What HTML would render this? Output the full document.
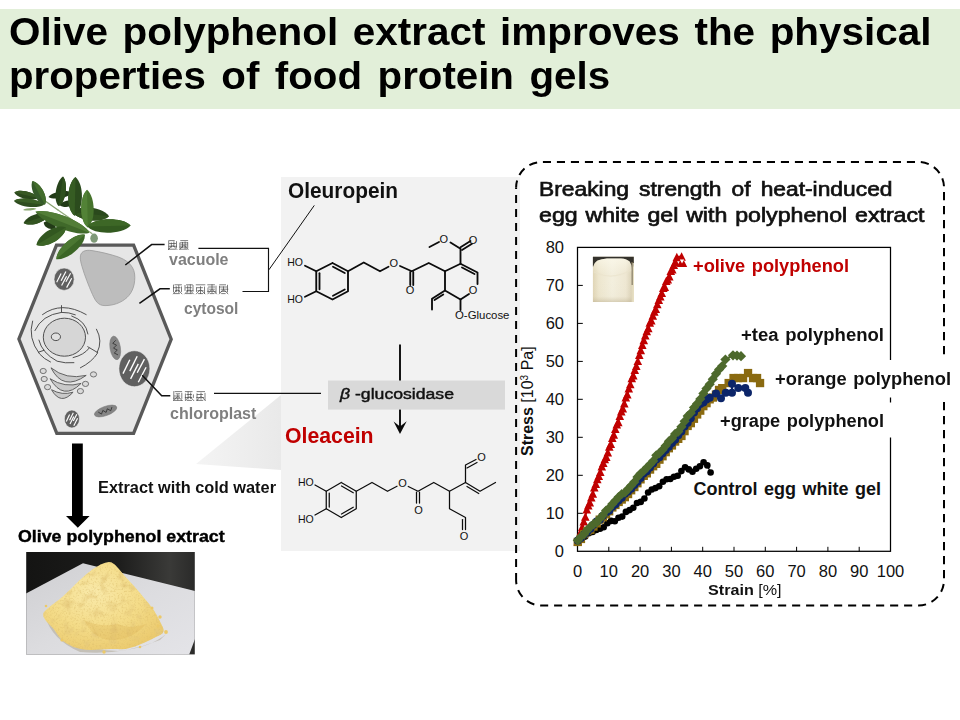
<!DOCTYPE html>
<html lang="en"><head><meta charset="utf-8"><title>Olive polyphenol extract</title>
<style>
html,body{margin:0;padding:0;}
body{width:960px;height:720px;position:relative;overflow:hidden;background:#fff;font-family:"Liberation Sans",sans-serif;}
.hdr{position:absolute;left:0;top:9px;width:960px;height:100px;background:#e2efd9;}
.panel{position:absolute;left:281px;top:177.3px;width:238.7px;height:373.5px;background:#f2f2f2;}
.t{position:absolute;white-space:nowrap;line-height:1;transform-origin:0 0;}
svg{position:absolute;left:0;top:0;}
</style></head><body>
<div class="hdr"></div>
<div class="panel"></div>
<svg width="960" height="720" viewBox="0 0 960 720">
<defs><linearGradient id="gtri" x1="0" y1="0" x2="1" y2="0"><stop offset="0" stop-color="#f4f4f4"/><stop offset="1" stop-color="#e9e9e9"/></linearGradient></defs>
<polygon points="196,464 281,395 281,470" fill="url(#gtri)"/>
<polygon points="56.5,245.1 133.6,245.1 171.2,339.2 133.6,433.3 56.8,433.3 18.9,339" fill="#e6e6e6" stroke="#595959" stroke-width="3.3" stroke-linejoin="miter"/>
<path d="M80.3,258 C80,251.5 85,249.5 92,250.6 C101,252 109,254 117,256.5 C126,259.5 133.5,265 134.6,274 C135.6,283 133,292 127,297.5 C121,303 113,305.6 105,305.6 C98,305.6 95.5,301 92.5,294.5 C88.5,285.5 84.5,275 82,266.5 C81,263 80.4,260.5 80.3,258 Z" fill="#bdbdbd" stroke="#9a9a9a" stroke-width="0.8"/>
<g transform="translate(64.1,279.2)">
<ellipse cx="0" cy="0" rx="10.1" ry="11.2" fill="#606060" stroke="#f0f0f0" stroke-width="0.6"/>
<line x1="-7.4" y1="3.1" x2="-3.0" y2="-5.6" stroke="#fff" stroke-width="1.15" stroke-linecap="butt"/>
<line x1="-3.0" y1="1.5" x2="1.8" y2="-7.8" stroke="#fff" stroke-width="1.15" stroke-linecap="butt"/>
<line x1="-2.5" y1="6.4" x2="2.5" y2="-3.0" stroke="#fff" stroke-width="1.15" stroke-linecap="butt"/>
<line x1="1.8" y1="2.6" x2="6.5" y2="-6.0" stroke="#fff" stroke-width="1.15" stroke-linecap="butt"/>
<line x1="2.5" y1="8.4" x2="7.6" y2="-0.9" stroke="#fff" stroke-width="1.15" stroke-linecap="butt"/>
</g>
<ellipse cx="64.4" cy="337.2" rx="21.1" ry="19" fill="#d6d6d6" stroke="#505050" stroke-width="1"/>
<ellipse cx="55.9" cy="336.8" rx="4.6" ry="3.8" fill="#e0e0e0" stroke="#505050" stroke-width="1"/>
<path d="M42.5,314.6 Q61.5,300.5 86.2,314.6" fill="none" stroke="#484848" stroke-width="0.95" stroke-linecap="round"/>
<path d="M61.5,305.6 L61.5,312.4" fill="none" stroke="#484848" stroke-width="0.95" stroke-linecap="round"/>
<path d="M34.9,330.6 Q42,315 61.5,312.4 Q69,312.2 75.3,314.8" fill="none" stroke="#484848" stroke-width="0.95" stroke-linecap="round"/>
<path d="M32.6,321.1 Q27.5,338 39.6,354 Q44,359 50.5,362" fill="none" stroke="#484848" stroke-width="0.95" stroke-linecap="round"/>
<path d="M38.9,340.1 Q42,353 57.1,361.2 Q65,363.6 73.9,362.7" fill="none" stroke="#484848" stroke-width="0.95" stroke-linecap="round"/>
<path d="M38.4,352.2 L44,350.3" fill="none" stroke="#484848" stroke-width="0.95" stroke-linecap="round"/>
<path d="M96.5,329.2 Q103,341 97.2,352.5" fill="none" stroke="#484848" stroke-width="0.95" stroke-linecap="round"/>
<path d="M87.7,346.7 L97.5,352.5" fill="none" stroke="#484848" stroke-width="0.95" stroke-linecap="round"/>
<path d="M73.1,357.6 Q84,355 89.2,348.1" fill="none" stroke="#484848" stroke-width="0.95" stroke-linecap="round"/>
<path d="M80.4,367.8 Q92,362 97.5,353.2" fill="none" stroke="#484848" stroke-width="0.95" stroke-linecap="round"/>
<path d="M71.7,316 Q86,321 87.9,334" fill="none" stroke="#484848" stroke-width="0.95" stroke-linecap="round"/>
<path d="M51,367.8 Q63,391.8 86.2,375.4 Q66,380 51,367.8 Z" fill="#c9c9c9" stroke="#555" stroke-width="0.9" stroke-linejoin="round"/>
<path d="M50.1,378.7 Q63.2,401.2 81.1,383.4 Q64.6,388.2 50.1,378.7 Z" fill="#c9c9c9" stroke="#555" stroke-width="0.9" stroke-linejoin="round"/>
<path d="M51.5,389.7 Q60.7,405.9 73.1,392.2 Q62.1,395.7 51.5,389.7 Z" fill="#c9c9c9" stroke="#555" stroke-width="0.9" stroke-linejoin="round"/>
<ellipse cx="43.2" cy="371.0" rx="3.1" ry="2.6" fill="#dadada" stroke="#666" stroke-width="0.9"/>
<ellipse cx="44.2" cy="379.0" rx="3.1" ry="2.6" fill="#dadada" stroke="#666" stroke-width="0.9"/>
<ellipse cx="47.6" cy="387.1" rx="3.1" ry="2.6" fill="#dadada" stroke="#666" stroke-width="0.9"/>
<ellipse cx="93.5" cy="374.4" rx="3.1" ry="2.6" fill="#dadada" stroke="#666" stroke-width="0.9"/>
<ellipse cx="85.5" cy="383.9" rx="3.1" ry="2.6" fill="#dadada" stroke="#666" stroke-width="0.9"/>
<ellipse cx="80.4" cy="391.1" rx="3.1" ry="2.6" fill="#dadada" stroke="#666" stroke-width="0.9"/>
<g transform="translate(115.2,347.9) rotate(81)">
<ellipse cx="0" cy="0" rx="11.9" ry="5.2" fill="#858585" stroke="#777" stroke-width="0.5"/>
<polyline points="-7.4,-1.7 -4.9,1.7 -2.5,-1.7 0.0,1.7 2.5,-1.7 4.9,1.7 7.4,-1.7" fill="none" stroke="#333" stroke-width="0.8" stroke-linejoin="round"/>
</g>
<g transform="translate(105.6,411.0) rotate(-20)">
<ellipse cx="0" cy="0" rx="11.8" ry="4.6" fill="#858585" stroke="#777" stroke-width="0.5"/>
<polyline points="-7.3,-1.5 -4.9,1.5 -2.4,-1.5 -0.0,1.5 2.4,-1.5 4.9,1.5 7.3,-1.5" fill="none" stroke="#333" stroke-width="0.8" stroke-linejoin="round"/>
</g>
<g transform="translate(134.4,368.7)">
<ellipse cx="0" cy="0" rx="15.5" ry="18.0" fill="#606060" stroke="#f0f0f0" stroke-width="0.6"/>
<line x1="-11.4" y1="4.9" x2="-4.6" y2="-8.9" stroke="#fff" stroke-width="1.36" stroke-linecap="butt"/>
<line x1="-4.6" y1="2.4" x2="2.8" y2="-12.4" stroke="#fff" stroke-width="1.36" stroke-linecap="butt"/>
<line x1="-3.8" y1="10.2" x2="3.9" y2="-4.8" stroke="#fff" stroke-width="1.36" stroke-linecap="butt"/>
<line x1="2.8" y1="4.1" x2="10.0" y2="-9.6" stroke="#fff" stroke-width="1.36" stroke-linecap="butt"/>
<line x1="3.9" y1="13.5" x2="11.7" y2="-1.5" stroke="#fff" stroke-width="1.36" stroke-linecap="butt"/>
</g>
<g transform="translate(71.9,419.0)">
<ellipse cx="0" cy="0" rx="7.6" ry="9.0" fill="#606060" stroke="#f0f0f0" stroke-width="0.6"/>
<line x1="-5.6" y1="2.4" x2="-2.3" y2="-4.4" stroke="#fff" stroke-width="1.15" stroke-linecap="butt"/>
<line x1="-2.3" y1="1.2" x2="1.4" y2="-6.2" stroke="#fff" stroke-width="1.15" stroke-linecap="butt"/>
<line x1="-1.9" y1="5.1" x2="1.9" y2="-2.4" stroke="#fff" stroke-width="1.15" stroke-linecap="butt"/>
<line x1="1.4" y1="2.1" x2="4.9" y2="-4.8" stroke="#fff" stroke-width="1.15" stroke-linecap="butt"/>
<line x1="1.9" y1="6.8" x2="5.7" y2="-0.7" stroke="#fff" stroke-width="1.15" stroke-linecap="butt"/>
</g>
<polyline points="125.3,265 151.6,244.6 164.6,244.6" fill="none" stroke="#111" stroke-width="1.5"/>
<polyline points="139.4,303.4 160,288.8 169.8,288.8" fill="none" stroke="#111" stroke-width="1.5"/>
<polyline points="142.2,375.3 161.7,395.7 170.3,395.7" fill="none" stroke="#111" stroke-width="1.5"/>
<polyline points="198.4,248.4 268.5,248.4 268.5,291.5 242.5,291.5" fill="none" stroke="#111" stroke-width="1.15"/>
<line x1="268.9" y1="269.8" x2="314.3" y2="205.4" stroke="#111" stroke-width="1.0"/>
<line x1="214" y1="393.4" x2="321" y2="393.4" stroke="#111" stroke-width="1.1"/>
<polygon points="72,443.5 82.8,443.5 82.8,516 89.6,516 77.8,527.8 66,516 72,516" fill="#000"/>
<path d="M169.2,240.6 L174.7,240.6 M169.1,243.5 L175.9,243.5 M168.6,246.3 L176.8,246.3 M168.0,249.2 L175.9,249.2 M168.7,240.3 L168.7,249.6 M171.3,242.5 L171.3,247.6 M173.9,241.4 L173.9,246.9 M176.5,241.2 L176.5,247.8 M172.1,245.4 L168.3,249.8 M173.1,245.4 L177.2,249.8 M180.3,240.6 L188.1,240.6 M179.6,242.8 L188.0,242.8 M180.4,244.9 L187.5,244.9 M179.6,247.0 L187.0,247.0 M179.5,249.2 L187.3,249.2 M179.9,243.0 L179.9,248.6 M182.5,242.0 L182.5,247.8 M185.1,241.5 L185.1,248.9 M187.7,242.2 L187.7,248.5 M183.3,245.4 L179.5,249.8 M184.3,245.4 L188.4,249.8" fill="none" stroke="#484848" stroke-width="0.7"/>
<path d="M174.5,284.8 L181.9,284.8 M173.0,287.7 L180.5,287.7 M175.2,290.7 L179.7,290.7 M173.8,293.6 L179.8,293.6 M173.5,284.6 L173.5,292.4 M176.2,286.2 L176.2,292.2 M178.8,284.9 L178.8,292.9 M181.5,286.5 L181.5,291.9 M177.0,289.7 L173.1,294.2 M178.0,289.7 L182.2,294.2 M186.1,284.8 L192.8,284.8 M185.5,287.7 L191.7,287.7 M186.4,290.7 L193.3,290.7 M185.6,293.6 L192.4,293.6 M185.0,285.0 L185.0,290.8 M187.7,285.5 L187.7,292.8 M190.3,284.4 L190.3,293.5 M193.0,285.0 L193.0,291.6 M188.5,289.7 L184.6,294.2 M189.5,289.7 L193.7,294.2 M195.8,284.8 L205.3,284.8 M196.2,287.7 L202.9,287.7 M197.5,290.7 L203.5,290.7 M198.1,293.6 L203.2,293.6 M196.5,287.5 L196.5,291.9 M200.5,286.3 L200.5,294.0 M204.5,286.6 L204.5,293.9 M200.0,289.7 L196.1,294.2 M201.0,289.7 L205.2,294.2 M207.3,284.8 L214.9,284.8 M208.2,287.0 L215.0,287.0 M209.2,289.2 L214.8,289.2 M207.3,291.4 L215.8,291.4 M209.7,293.6 L214.4,293.6 M208.0,287.6 L208.0,292.5 M212.0,284.3 L212.0,292.9 M216.0,285.7 L216.0,293.4 M211.5,289.7 L207.6,294.2 M212.5,289.7 L216.7,294.2 M219.3,284.8 L226.0,284.8 M219.2,287.0 L227.4,287.0 M220.6,289.2 L228.3,289.2 M220.9,291.4 L226.3,291.4 M221.2,293.6 L225.6,293.6 M219.5,285.8 L219.5,293.2 M223.5,286.4 L223.5,290.9 M227.5,284.8 L227.5,292.4 M223.0,289.7 L219.1,294.2 M224.0,289.7 L228.2,294.2" fill="none" stroke="#484848" stroke-width="0.7"/>
<path d="M174.7,391.6 L182.1,391.6 M175.7,393.8 L180.0,393.8 M174.0,396.0 L180.2,396.0 M173.2,398.2 L179.9,398.2 M174.4,400.4 L182.4,400.4 M173.8,391.1 L173.8,401.0 M177.8,394.1 L177.8,400.4 M181.8,392.8 L181.8,398.9 M177.3,396.5 L173.4,401.0 M178.3,396.5 L182.5,401.0 M184.9,391.6 L192.5,391.6 M186.5,394.5 L191.9,394.5 M184.9,397.5 L192.1,397.5 M186.7,400.4 L191.9,400.4 M185.4,393.5 L185.4,399.8 M188.1,391.5 L188.1,399.4 M190.7,392.5 L190.7,399.0 M193.4,394.4 L193.4,397.9 M188.9,396.5 L185.0,401.0 M189.9,396.5 L194.1,401.0 M196.6,391.6 L205.0,391.6 M196.9,394.5 L203.1,394.5 M196.3,397.5 L204.0,397.5 M197.1,400.4 L203.2,400.4 M197.0,393.4 L197.0,401.0 M201.0,392.6 L201.0,399.6 M205.0,392.9 L205.0,400.2 M200.5,396.5 L196.6,401.0 M201.5,396.5 L205.7,401.0" fill="none" stroke="#484848" stroke-width="0.7"/>
<g>
<path d="M14.29,192.42 C17.00,198.13 32.31,201.68 38.21,197.96 C34.54,192.02 19.24,188.47 14.29,192.42 Z" fill="#2b481d"/><path d="M14.29,192.42 C19.24,188.47 34.54,192.02 38.21,197.96 Z" fill="#375823"/>
<path d="M14.00,200.88 C18.14,206.79 37.36,209.22 44.04,204.67 C38.70,198.60 19.48,196.17 14.00,200.88 Z" fill="#2e4d1f"/><path d="M14.00,200.88 C19.48,196.17 38.70,198.60 44.04,204.67 Z" fill="#3a5f26"/>
<path d="M71.46,192.71 C66.96,189.12 52.21,191.92 48.42,197.08 C53.84,200.50 68.59,197.70 71.46,192.71 Z" fill="#223a17"/>
<path d="M75.83,202.62 C72.63,198.88 62.18,200.37 59.50,204.96 C63.36,208.61 73.81,207.12 75.83,202.62 Z" fill="#223a17"/>
<path d="M72.92,211.96 C77.70,220.93 100.85,223.73 109.08,216.33 C102.85,207.19 79.70,204.39 72.92,211.96 Z" fill="#2a491c"/><path d="M72.92,211.96 C77.70,220.93 100.85,223.73 109.08,216.33 Z" fill="#31531f"/>
<path d="M48.12,214.88 C42.26,210.35 26.58,215.58 23.62,223.04 C30.47,227.24 46.15,222.01 48.12,214.88 Z" fill="#29461b"/><path d="M48.12,214.88 C46.15,222.01 30.47,227.24 23.62,223.04 Z" fill="#335521"/>
<path d="M43.75,222.60 C43.81,227.97 51.47,231.05 55.71,227.42 C55.17,221.85 47.51,218.77 43.75,222.60 Z" fill="#223a17"/>
<path d="M36.46,208.75 C34.17,207.36 25.59,208.10 23.04,209.92 C25.86,211.26 34.45,210.52 36.46,208.75 Z" fill="#8aa870"/>
<line x1="43.75" y1="200.00" x2="58.33" y2="210.21" stroke="#86a06e" stroke-width="1.3" stroke-linecap="round"/>
<line x1="58.33" y1="210.21" x2="91.88" y2="233.54" stroke="#93ab7c" stroke-width="1.3" stroke-linecap="round"/>
<path d="M44.92,204.67 C48.69,197.82 40.66,182.70 32.38,181.04 C29.10,188.84 37.13,203.96 44.92,204.67 Z" fill="#35592a"/><path d="M44.92,204.67 C48.69,197.82 40.66,182.70 32.38,181.04 Z" fill="#426c2c"/>
<path d="M58.62,206.12 C65.80,202.32 68.60,183.28 63.00,176.38 C55.65,181.37 52.85,200.41 58.62,206.12 Z" fill="#26431a"/><path d="M58.62,206.12 C65.80,202.32 68.60,183.28 63.00,176.38 Z" fill="#2f501e"/>
<path d="M74.67,215.75 C83.93,209.75 84.49,184.92 75.54,176.96 C66.25,184.51 65.69,209.34 74.67,215.75 Z" fill="#2b4b1d"/><path d="M74.67,215.75 C65.69,209.34 66.25,184.51 75.54,176.96 Z" fill="#365c23"/>
<path d="M87.79,227.42 C96.00,221.24 95.54,197.16 87.06,189.79 C78.88,197.48 79.35,221.56 87.79,227.42 Z" fill="#46732c"/><path d="M87.79,227.42 C79.35,221.56 78.88,197.48 87.06,189.79 Z" fill="#528236"/>
<path d="M87.50,226.54 C94.65,235.28 122.27,234.53 130.67,225.38 C121.79,216.69 94.17,217.43 87.50,226.54 Z" fill="#335a20"/><path d="M87.50,226.54 C94.17,217.43 121.79,216.69 130.67,225.38 Z" fill="#3d6726"/>
<path d="M89.25,232.67 C83.74,221.36 49.30,207.92 35.44,211.67 C43.10,223.81 77.54,237.25 89.25,232.67 Z" fill="#40692a"/><path d="M89.25,232.67 C83.74,221.36 49.30,207.92 35.44,211.67 Z" fill="#527d37"/>
<path d="M65.92,227.42 C56.85,222.88 37.99,234.08 36.46,244.92 C46.71,248.75 65.56,237.55 65.92,227.42 Z" fill="#325720"/><path d="M65.92,227.42 C65.56,237.55 46.71,248.75 36.46,244.92 Z" fill="#3d6527"/>
<path d="M84.88,234.71 C74.88,232.30 56.59,247.98 56.29,259.21 C67.43,260.63 85.72,244.95 84.88,234.71 Z" fill="#3b6526"/><path d="M84.88,234.71 C74.88,232.30 56.59,247.98 56.29,259.21 Z" fill="#4b7732"/>
<ellipse cx="94.1" cy="238.2" rx="3.8" ry="4.6" fill="#7f9a78"/>
</g>
<polyline points="332.50,263.00 348.00,271.25 348.00,291.25 332.50,299.50 316.25,291.25 316.25,271.25 332.50,263.00" fill="none" stroke="#0c0c0c" stroke-width="1.85" stroke-linejoin="round" stroke-linecap="round"/>
<polyline points="319.50,273.25 319.50,289.25" fill="none" stroke="#0c0c0c" stroke-width="1.85" stroke-linejoin="round" stroke-linecap="round"/>
<polyline points="333.00,266.75 344.75,273.00" fill="none" stroke="#0c0c0c" stroke-width="1.85" stroke-linejoin="round" stroke-linecap="round"/>
<polyline points="333.00,295.75 344.75,289.50" fill="none" stroke="#0c0c0c" stroke-width="1.85" stroke-linejoin="round" stroke-linecap="round"/>
<polyline points="305.00,265.75 316.25,271.25" fill="none" stroke="#0c0c0c" stroke-width="1.85" stroke-linejoin="round" stroke-linecap="round"/>
<polyline points="305.00,296.75 316.25,291.25" fill="none" stroke="#0c0c0c" stroke-width="1.85" stroke-linejoin="round" stroke-linecap="round"/>
<text x="295.00" y="266.28" font-family="Liberation Sans, sans-serif" font-size="10.5" fill="#111" text-anchor="middle">HO</text>
<text x="295.00" y="302.53" font-family="Liberation Sans, sans-serif" font-size="10.5" fill="#111" text-anchor="middle">HO</text>
<polyline points="348.00,271.25 363.75,262.50 380.00,271.25 388.50,266.75" fill="none" stroke="#0c0c0c" stroke-width="1.85" stroke-linejoin="round" stroke-linecap="round"/>
<text x="393.75" y="266.71" font-family="Liberation Sans, sans-serif" font-size="11" fill="#111" text-anchor="middle">O</text>
<polyline points="400.00,266.00 411.75,271.25 428.75,263.00 445.00,271.25" fill="none" stroke="#0c0c0c" stroke-width="1.85" stroke-linejoin="round" stroke-linecap="round"/>
<polyline points="410.25,272.00 410.25,285.00" fill="none" stroke="#0c0c0c" stroke-width="1.85" stroke-linejoin="round" stroke-linecap="round"/>
<polyline points="413.25,272.00 413.25,285.00" fill="none" stroke="#0c0c0c" stroke-width="1.85" stroke-linejoin="round" stroke-linecap="round"/>
<text x="410.00" y="294.21" font-family="Liberation Sans, sans-serif" font-size="11" fill="#111" text-anchor="middle">O</text>
<polyline points="445.00,271.25 460.50,263.75 477.50,272.50 477.50,284.00" fill="none" stroke="#0c0c0c" stroke-width="1.85" stroke-linejoin="round" stroke-linecap="round"/>
<polyline points="462.00,267.50 474.50,274.00" fill="none" stroke="#0c0c0c" stroke-width="1.85" stroke-linejoin="round" stroke-linecap="round"/>
<text x="473.00" y="293.71" font-family="Liberation Sans, sans-serif" font-size="11" fill="#111" text-anchor="middle">O</text>
<polyline points="469.00,294.00 460.50,299.50 445.00,290.50 445.00,271.25" fill="none" stroke="#0c0c0c" stroke-width="1.85" stroke-linejoin="round" stroke-linecap="round"/>
<polyline points="460.50,263.75 460.50,248.75 450.50,242.50" fill="none" stroke="#0c0c0c" stroke-width="1.85" stroke-linejoin="round" stroke-linecap="round"/>
<polyline points="460.50,247.25 470.50,241.00" fill="none" stroke="#0c0c0c" stroke-width="1.85" stroke-linejoin="round" stroke-linecap="round"/>
<polyline points="462.00,250.00 472.00,243.75" fill="none" stroke="#0c0c0c" stroke-width="1.85" stroke-linejoin="round" stroke-linecap="round"/>
<text x="443.75" y="243.46" font-family="Liberation Sans, sans-serif" font-size="11" fill="#111" text-anchor="middle">O</text>
<text x="473.00" y="244.46" font-family="Liberation Sans, sans-serif" font-size="11" fill="#111" text-anchor="middle">O</text>
<polyline points="439.00,242.00 429.50,247.00" fill="none" stroke="#0c0c0c" stroke-width="1.85" stroke-linejoin="round" stroke-linecap="round"/>
<polyline points="445.00,290.50 432.00,298.75 432.00,309.50" fill="none" stroke="#0c0c0c" stroke-width="1.85" stroke-linejoin="round" stroke-linecap="round"/>
<polyline points="443.25,294.50 434.50,300.00" fill="none" stroke="#0c0c0c" stroke-width="1.85" stroke-linejoin="round" stroke-linecap="round"/>
<polyline points="460.50,299.50 460.50,310.00" fill="none" stroke="#0c0c0c" stroke-width="1.85" stroke-linejoin="round" stroke-linecap="round"/>
<text x="455.00" y="319.35" font-family="Liberation Sans, sans-serif" font-size="11.4" fill="#111" text-anchor="start">O-Glucose</text>
<polyline points="341.25,482.50 356.25,491.25 356.25,508.75 341.25,517.50 326.25,508.75 326.25,491.25 341.25,482.50" fill="none" stroke="#0c0c0c" stroke-width="1.25" stroke-linejoin="round" stroke-linecap="round"/>
<polyline points="329.25,493.00 329.25,507.00" fill="none" stroke="#0c0c0c" stroke-width="1.25" stroke-linejoin="round" stroke-linecap="round"/>
<polyline points="341.50,486.00 353.25,492.75" fill="none" stroke="#0c0c0c" stroke-width="1.25" stroke-linejoin="round" stroke-linecap="round"/>
<polyline points="341.50,514.00 353.25,507.25" fill="none" stroke="#0c0c0c" stroke-width="1.25" stroke-linejoin="round" stroke-linecap="round"/>
<polyline points="315.00,485.00 326.25,491.25" fill="none" stroke="#0c0c0c" stroke-width="1.25" stroke-linejoin="round" stroke-linecap="round"/>
<polyline points="315.00,515.00 326.25,508.75" fill="none" stroke="#0c0c0c" stroke-width="1.25" stroke-linejoin="round" stroke-linecap="round"/>
<text x="305.75" y="486.03" font-family="Liberation Sans, sans-serif" font-size="10.5" fill="#111" text-anchor="middle">HO</text>
<text x="305.75" y="522.78" font-family="Liberation Sans, sans-serif" font-size="10.5" fill="#111" text-anchor="middle">HO</text>
<polyline points="356.25,491.25 372.00,482.50 387.50,491.25 397.00,486.25" fill="none" stroke="#0c0c0c" stroke-width="1.25" stroke-linejoin="round" stroke-linecap="round"/>
<text x="402.50" y="486.96" font-family="Liberation Sans, sans-serif" font-size="11" fill="#111" text-anchor="middle">O</text>
<polyline points="408.25,486.50 418.00,491.25 433.75,482.50 449.50,491.25 465.50,482.50" fill="none" stroke="#0c0c0c" stroke-width="1.25" stroke-linejoin="round" stroke-linecap="round"/>
<polyline points="416.50,492.00 416.50,503.00" fill="none" stroke="#0c0c0c" stroke-width="1.25" stroke-linejoin="round" stroke-linecap="round"/>
<polyline points="419.50,492.00 419.50,503.00" fill="none" stroke="#0c0c0c" stroke-width="1.25" stroke-linejoin="round" stroke-linecap="round"/>
<text x="418.50" y="513.71" font-family="Liberation Sans, sans-serif" font-size="11" fill="#111" text-anchor="middle">O</text>
<polyline points="465.50,482.50 465.50,465.00 476.00,459.50" fill="none" stroke="#0c0c0c" stroke-width="1.25" stroke-linejoin="round" stroke-linecap="round"/>
<polyline points="467.00,468.00 477.00,462.50" fill="none" stroke="#0c0c0c" stroke-width="1.25" stroke-linejoin="round" stroke-linecap="round"/>
<text x="481.50" y="461.21" font-family="Liberation Sans, sans-serif" font-size="11" fill="#111" text-anchor="middle">O</text>
<polyline points="465.50,482.50 480.00,491.25 495.50,482.50" fill="none" stroke="#0c0c0c" stroke-width="1.25" stroke-linejoin="round" stroke-linecap="round"/>
<polyline points="467.00,486.50 478.75,493.50" fill="none" stroke="#0c0c0c" stroke-width="1.25" stroke-linejoin="round" stroke-linecap="round"/>
<polyline points="449.50,491.25 449.50,508.75 465.50,517.50 465.50,529.50" fill="none" stroke="#0c0c0c" stroke-width="1.25" stroke-linejoin="round" stroke-linecap="round"/>
<polyline points="462.50,519.50 462.50,529.50" fill="none" stroke="#0c0c0c" stroke-width="1.25" stroke-linejoin="round" stroke-linecap="round"/>
<text x="464.00" y="540.46" font-family="Liberation Sans, sans-serif" font-size="11" fill="#111" text-anchor="middle">O</text>
<line x1="400" y1="344.5" x2="400" y2="428" stroke="#0a0a0a" stroke-width="1.9"/>
<rect x="328" y="380.5" width="177" height="29.1" fill="#d9d9d9"/>
<path d="M400,434.1 L393.6,421.4 L400,426.6 L406.7,421.3 Z" fill="#0a0a0a"/>
<defs>
<clipPath id="pclip"><rect x="26.2" y="552" width="168.6" height="102.5"/></clipPath>
<linearGradient id="pbg" x1="0" y1="0" x2="1" y2="0"><stop offset="0" stop-color="#141413"/><stop offset="0.55" stop-color="#1d1d1c"/><stop offset="0.85" stop-color="#3a3a38"/><stop offset="1" stop-color="#2a2a29"/></linearGradient>
<linearGradient id="ppaper" x1="0" y1="0" x2="1" y2="1"><stop offset="0" stop-color="#cfcfd2"/><stop offset="0.5" stop-color="#dcdcdf"/><stop offset="1" stop-color="#e4e4e8"/></linearGradient>
<radialGradient id="ppile" cx="0.42" cy="0.35" r="0.7"><stop offset="0" stop-color="#f9e9a9"/><stop offset="0.55" stop-color="#f4dc89"/><stop offset="1" stop-color="#ebca6e"/></radialGradient>
<filter id="pnoise" x="0" y="0" width="1" height="1"><feTurbulence type="fractalNoise" baseFrequency="0.55" numOctaves="2" seed="3" result="n"/><feColorMatrix in="n" type="matrix" values="0 0 0 0 0.72  0 0 0 0 0.52  0 0 0 0 0.15  0 0 0 -1.7 0.85" result="m"/><feComposite in="m" in2="SourceGraphic" operator="in" result="t"/><feTurbulence type="fractalNoise" baseFrequency="0.11" numOctaves="2" seed="11" result="n2"/><feColorMatrix in="n2" type="matrix" values="0 0 0 0 0.78  0 0 0 0 0.58  0 0 0 0 0.2  0 0 0 -2.6 1.25" result="m2"/><feComposite in="m2" in2="SourceGraphic" operator="in" result="t2"/><feMerge><feMergeNode in="SourceGraphic"/><feMergeNode in="t2"/><feMergeNode in="t"/></feMerge></filter>
</defs>
<g clip-path="url(#pclip)">
<rect x="26" y="551.8" width="169" height="103" fill="url(#pbg)"/>
<polygon points="26,593.5 83,563.3 195,591 195,639 189,655 26,655" fill="url(#ppaper)"/>
<path d="M45,616 Q70,650 118,651 Q150,648 166,634 L160,640 Q120,656 80,652 Q52,640 45,616 Z" fill="#b9b4a6" opacity="0.7"/>
<path filter="url(#pnoise)" d="M111.6,562.5 Q107.9,560.8 100.6,564.6 Q93.3,568.3 86.0,574.6 Q78.8,580.8 70.4,589.2 Q62.1,597.5 55.3,602.5 Q48.5,607.5 45.4,610.4 Q42.3,613.3 43.6,616.9 Q45.0,620.4 49.4,624.4 Q53.8,628.3 56.9,633.8 Q60.0,639.2 66.2,643.3 Q72.5,647.5 80.8,649.1 Q89.2,650.6 98.5,649.6 Q107.9,648.5 117.3,649.1 Q126.7,649.6 135.0,646.5 Q143.3,643.3 149.6,640.2 Q155.8,637.1 160.5,634.8 Q165.2,632.5 162.8,627.3 Q160.4,622.1 157.1,615.8 Q153.8,609.6 148.5,603.3 Q143.3,597.1 138.1,590.8 Q132.9,584.6 127.7,579.2 Q122.5,573.8 118.9,569.0 Q115.2,564.2 111.6,562.5 Z" fill="url(#ppile)"/>
<path d="M84,620 Q100,628 118,624 Q130,630 146,624 Q132,640 112,640 Q94,640 84,620 Z" fill="#d9ad4c" opacity="0.25"/>
<circle cx="152.0" cy="608.0" r="1.5" fill="#ecc969"/>
<circle cx="158.0" cy="626.0" r="1.4" fill="#ecc969"/>
<circle cx="166.0" cy="632.0" r="1.9" fill="#ecc969"/>
<circle cx="46.0" cy="606.0" r="1.3" fill="#ecc969"/>
<circle cx="160.0" cy="617.0" r="1.7" fill="#ecc969"/>
<circle cx="62.0" cy="640.0" r="1.6" fill="#ecc969"/>
<circle cx="140.0" cy="647.0" r="1.3" fill="#ecc969"/>
<circle cx="104.0" cy="652.0" r="1.7" fill="#ecc969"/>
</g>
<path d="M516.1,187.5 A25.5,25.5 0 0 1 541.6,162 H918.5 A25.5,25.5 0 0 1 944,187.5 V580 A25.5,25.5 0 0 1 918.5,605.5 H541.6 A25.5,25.5 0 0 1 516.1,580" fill="none" stroke="#000" stroke-width="2" stroke-dasharray="8.1 5.9" stroke-dashoffset="0.9"/><path d="M516.1,580 V187.5" fill="none" stroke="#000" stroke-width="2" stroke-dasharray="8.1 5.9" stroke-dashoffset="1"/>
<rect x="577.5" y="247.4" width="313.0" height="303.9" fill="none" stroke="#000" stroke-width="1.25"/>
<line x1="608.8" y1="551.3" x2="608.8" y2="546.8" stroke="#000" stroke-width="1"/>
<line x1="640.1" y1="551.3" x2="640.1" y2="546.8" stroke="#000" stroke-width="1"/>
<line x1="671.4" y1="551.3" x2="671.4" y2="546.8" stroke="#000" stroke-width="1"/>
<line x1="702.7" y1="551.3" x2="702.7" y2="546.8" stroke="#000" stroke-width="1"/>
<line x1="734.0" y1="551.3" x2="734.0" y2="546.8" stroke="#000" stroke-width="1"/>
<line x1="765.3" y1="551.3" x2="765.3" y2="546.8" stroke="#000" stroke-width="1"/>
<line x1="796.6" y1="551.3" x2="796.6" y2="546.8" stroke="#000" stroke-width="1"/>
<line x1="827.9" y1="551.3" x2="827.9" y2="546.8" stroke="#000" stroke-width="1"/>
<line x1="859.2" y1="551.3" x2="859.2" y2="546.8" stroke="#000" stroke-width="1"/>
<line x1="577.5" y1="513.3" x2="582.8" y2="513.3" stroke="#000" stroke-width="1"/>
<line x1="577.5" y1="475.3" x2="582.8" y2="475.3" stroke="#000" stroke-width="1"/>
<line x1="577.5" y1="437.3" x2="582.8" y2="437.3" stroke="#000" stroke-width="1"/>
<line x1="577.5" y1="399.3" x2="582.8" y2="399.3" stroke="#000" stroke-width="1"/>
<line x1="577.5" y1="361.4" x2="582.8" y2="361.4" stroke="#000" stroke-width="1"/>
<line x1="577.5" y1="323.4" x2="582.8" y2="323.4" stroke="#000" stroke-width="1"/>
<line x1="577.5" y1="285.4" x2="582.8" y2="285.4" stroke="#000" stroke-width="1"/>
<rect x="770" y="360" width="182" height="37.5" fill="#fff"/>
<rect x="716" y="402.5" width="178" height="35" fill="#fff"/>
<defs>
<clipPath id="eclip"><rect x="592.9" y="256.8" width="40.9" height="45.3"/></clipPath>
<linearGradient id="ebody" x1="0" y1="0" x2="1" y2="0"><stop offset="0" stop-color="#e0d5b6"/><stop offset="0.15" stop-color="#ede6ce"/><stop offset="0.5" stop-color="#f3efde"/><stop offset="0.85" stop-color="#eee7d2"/><stop offset="1" stop-color="#dcd3b9"/></linearGradient>
<linearGradient id="eshade" x1="0" y1="0" x2="0" y2="1"><stop offset="0" stop-color="#fffdf0" stop-opacity="0.55"/><stop offset="0.35" stop-color="#fffdf0" stop-opacity="0.0"/><stop offset="0.85" stop-color="#c9bda0" stop-opacity="0.05"/><stop offset="1" stop-color="#b5a886" stop-opacity="0.55"/></linearGradient>
</defs>
<g clip-path="url(#eclip)">
<rect x="592" y="256" width="43" height="47" fill="#e2d9bd"/>
<rect x="592" y="256" width="43" height="10.5" fill="#34322c"/>
<rect x="631.2" y="262" width="1.8" height="23" fill="#6a604a"/>
<rect x="632.6" y="263" width="2" height="40" fill="#e6dfc2"/>
<path d="M593,303 L593,269 Q593.4,263 597.6,260.6 Q601.5,258.6 607,258.4 L621,258.4 Q627,258.7 629.6,261.6 Q631.6,264 631.6,269 L631.6,303 Z" fill="url(#ebody)"/>
<path d="M593,303 L593,269 Q593.4,263 597.6,260.6 Q601.5,258.6 607,258.4 L621,258.4 Q627,258.7 629.6,261.6 Q631.6,264 631.6,269 L631.6,303 Z" fill="url(#eshade)"/>
<path d="M594,272 Q612,281 631,270" fill="none" stroke="#e9e2cc" stroke-width="1.2" opacity="0.7"/>
</g>
<polyline points="577.8,541.3 579.3,536.6 580.8,531.6 582.3,526.9 583.8,521.3 585.3,516.7 586.8,509.3 588.3,505.4 589.8,502.4 591.3,497.3 592.8,493.6 594.3,487.3 595.8,483.9 597.3,479.1 598.8,475.9 600.3,472.0 601.8,466.5 603.3,463.1 604.8,459.2 606.3,456.9 607.8,452.5 609.3,446.7 610.8,444.0 612.3,437.8 613.8,434.7 615.3,429.0 616.8,424.3 618.3,422.2 619.8,416.0 621.3,411.3 622.8,408.5 624.3,403.5 625.8,397.3 627.3,394.3 628.8,388.5 630.3,384.1 631.8,378.1 633.3,375.3 634.8,370.0 636.3,366.0 637.8,361.0 639.3,354.8 640.8,350.2 642.3,345.0 643.8,340.2 645.3,335.3 646.8,331.2 648.3,328.1 649.8,322.6 651.3,320.4 652.8,315.6 654.3,311.6 655.8,309.0 657.3,304.2 658.8,299.9 660.3,296.4 661.8,293.1 663.3,287.9 664.8,286.9 666.3,281.0 667.8,279.5 669.3,276.3 670.8,270.8 672.3,269.4 673.8,264.9 675.3,262.0 676.8,257.1 681.6,256.6" fill="none" stroke="#c00000" stroke-width="2.0" stroke-linejoin="round"/>
<polygon points="577.8,536.9 582.1,545.4 573.5,545.4" fill="#c00000"/>
<polygon points="579.3,532.2 583.6,540.6 575.0,540.6" fill="#c00000"/>
<polygon points="580.8,527.2 585.1,535.7 576.5,535.7" fill="#c00000"/>
<polygon points="582.3,522.6 586.6,531.0 578.0,531.0" fill="#c00000"/>
<polygon points="583.8,517.0 588.1,525.4 579.5,525.4" fill="#c00000"/>
<polygon points="585.3,512.4 589.6,520.8 581.0,520.8" fill="#c00000"/>
<polygon points="586.8,505.0 591.1,513.4 582.5,513.4" fill="#c00000"/>
<polygon points="588.3,501.0 592.6,509.5 584.0,509.5" fill="#c00000"/>
<polygon points="589.8,498.0 594.1,506.4 585.5,506.4" fill="#c00000"/>
<polygon points="591.3,492.9 595.6,501.4 587.0,501.4" fill="#c00000"/>
<polygon points="592.8,489.3 597.1,497.7 588.5,497.7" fill="#c00000"/>
<polygon points="594.3,482.9 598.6,491.4 590.0,491.4" fill="#c00000"/>
<polygon points="595.8,479.5 600.1,488.0 591.5,488.0" fill="#c00000"/>
<polygon points="597.3,474.7 601.6,483.2 593.0,483.2" fill="#c00000"/>
<polygon points="598.8,471.5 603.1,479.9 594.5,479.9" fill="#c00000"/>
<polygon points="600.3,467.6 604.6,476.0 596.0,476.0" fill="#c00000"/>
<polygon points="601.8,462.1 606.1,470.6 597.5,470.6" fill="#c00000"/>
<polygon points="603.3,458.7 607.6,467.1 599.0,467.1" fill="#c00000"/>
<polygon points="604.8,454.8 609.1,463.3 600.5,463.3" fill="#c00000"/>
<polygon points="606.3,452.5 610.6,461.0 602.0,461.0" fill="#c00000"/>
<polygon points="607.8,448.1 612.1,456.6 603.5,456.6" fill="#c00000"/>
<polygon points="609.3,442.3 613.6,450.8 605.0,450.8" fill="#c00000"/>
<polygon points="610.8,439.6 615.1,448.0 606.5,448.0" fill="#c00000"/>
<polygon points="612.3,433.5 616.6,441.9 608.0,441.9" fill="#c00000"/>
<polygon points="613.8,430.3 618.1,438.8 609.5,438.8" fill="#c00000"/>
<polygon points="615.3,424.6 619.6,433.1 611.0,433.1" fill="#c00000"/>
<polygon points="616.8,419.9 621.1,428.4 612.5,428.4" fill="#c00000"/>
<polygon points="618.3,417.8 622.6,426.3 614.0,426.3" fill="#c00000"/>
<polygon points="619.8,411.6 624.1,420.1 615.5,420.1" fill="#c00000"/>
<polygon points="621.3,406.9 625.6,415.4 617.0,415.4" fill="#c00000"/>
<polygon points="622.8,404.1 627.1,412.6 618.5,412.6" fill="#c00000"/>
<polygon points="624.3,399.1 628.6,407.6 620.0,407.6" fill="#c00000"/>
<polygon points="625.8,392.9 630.1,401.4 621.5,401.4" fill="#c00000"/>
<polygon points="627.3,389.9 631.6,398.4 623.0,398.4" fill="#c00000"/>
<polygon points="628.8,384.1 633.1,392.5 624.5,392.5" fill="#c00000"/>
<polygon points="630.3,379.7 634.6,388.2 626.0,388.2" fill="#c00000"/>
<polygon points="631.8,373.8 636.1,382.2 627.5,382.2" fill="#c00000"/>
<polygon points="633.3,370.9 637.6,379.4 629.0,379.4" fill="#c00000"/>
<polygon points="634.8,365.6 639.1,374.0 630.5,374.0" fill="#c00000"/>
<polygon points="636.3,361.6 640.6,370.0 632.0,370.0" fill="#c00000"/>
<polygon points="637.8,356.7 642.1,365.1 633.5,365.1" fill="#c00000"/>
<polygon points="639.3,350.4 643.6,358.9 635.0,358.9" fill="#c00000"/>
<polygon points="640.8,345.8 645.1,354.3 636.5,354.3" fill="#c00000"/>
<polygon points="642.3,340.6 646.6,349.1 638.0,349.1" fill="#c00000"/>
<polygon points="643.8,335.8 648.1,344.3 639.5,344.3" fill="#c00000"/>
<polygon points="645.3,330.9 649.6,339.4 641.0,339.4" fill="#c00000"/>
<polygon points="646.8,326.8 651.1,335.3 642.5,335.3" fill="#c00000"/>
<polygon points="648.3,323.7 652.6,332.2 644.0,332.2" fill="#c00000"/>
<polygon points="649.8,318.2 654.1,326.7 645.5,326.7" fill="#c00000"/>
<polygon points="651.3,316.1 655.6,324.5 647.0,324.5" fill="#c00000"/>
<polygon points="652.8,311.2 657.1,319.7 648.5,319.7" fill="#c00000"/>
<polygon points="654.3,307.3 658.6,315.7 650.0,315.7" fill="#c00000"/>
<polygon points="655.8,304.7 660.1,313.1 651.5,313.1" fill="#c00000"/>
<polygon points="657.3,299.9 661.6,308.3 653.0,308.3" fill="#c00000"/>
<polygon points="658.8,295.5 663.1,304.0 654.5,304.0" fill="#c00000"/>
<polygon points="660.3,292.0 664.6,300.5 656.0,300.5" fill="#c00000"/>
<polygon points="661.8,288.7 666.1,297.1 657.5,297.1" fill="#c00000"/>
<polygon points="663.3,283.5 667.6,292.0 659.0,292.0" fill="#c00000"/>
<polygon points="664.8,282.5 669.1,291.0 660.5,291.0" fill="#c00000"/>
<polygon points="666.3,276.6 670.6,285.1 662.0,285.1" fill="#c00000"/>
<polygon points="667.8,275.1 672.1,283.6 663.5,283.6" fill="#c00000"/>
<polygon points="669.3,271.9 673.6,280.4 665.0,280.4" fill="#c00000"/>
<polygon points="670.8,266.4 675.1,274.9 666.5,274.9" fill="#c00000"/>
<polygon points="672.3,265.0 676.6,273.5 668.0,273.5" fill="#c00000"/>
<polygon points="673.8,260.5 678.1,269.0 669.5,269.0" fill="#c00000"/>
<polygon points="675.3,257.6 679.6,266.1 671.0,266.1" fill="#c00000"/>
<polygon points="676.8,252.8 681.1,261.2 672.5,261.2" fill="#c00000"/>
<polygon points="681.6,252.2 685.9,260.7 677.3,260.7" fill="#c00000"/>
<polygon points="682.0,256.7 687.2,267.0 676.8,267.0" fill="#c00000"/>
<polygon points="679.8,259.5 684.2,259.5 682,263.5" fill="#fff"/>
<polyline points="577.8,539.9 581.5,539.2 585.2,536.6 588.9,533.2 592.6,532.0 596.3,530.0 600.0,528.7 603.7,527.3 607.4,523.3 611.1,520.9 614.8,521.2 618.5,517.8 622.2,516.6 625.9,511.9 629.6,510.1 633.3,507.7 637.0,503.0 640.7,501.9 644.4,498.5 648.1,492.5 651.8,489.5 655.5,488.1 659.2,486.3 662.9,481.7 666.6,479.3 670.3,479.0 674.0,476.8 677.7,475.7 681.4,471.1 685.1,467.2 688.8,469.4 692.5,471.8 696.2,468.7 699.9,466.2 703.6,462.3 707.3,465.4 710.6,472.5" fill="none" stroke="#000" stroke-width="1.2" stroke-linejoin="round"/>
<circle cx="577.8" cy="539.9" r="3.30" fill="#000"/>
<circle cx="581.5" cy="539.2" r="3.30" fill="#000"/>
<circle cx="585.2" cy="536.6" r="3.30" fill="#000"/>
<circle cx="588.9" cy="533.2" r="3.30" fill="#000"/>
<circle cx="592.6" cy="532.0" r="3.30" fill="#000"/>
<circle cx="596.3" cy="530.0" r="3.30" fill="#000"/>
<circle cx="600.0" cy="528.7" r="3.30" fill="#000"/>
<circle cx="603.7" cy="527.3" r="3.30" fill="#000"/>
<circle cx="607.4" cy="523.3" r="3.30" fill="#000"/>
<circle cx="611.1" cy="520.9" r="3.30" fill="#000"/>
<circle cx="614.8" cy="521.2" r="3.30" fill="#000"/>
<circle cx="618.5" cy="517.8" r="3.30" fill="#000"/>
<circle cx="622.2" cy="516.6" r="3.30" fill="#000"/>
<circle cx="625.9" cy="511.9" r="3.30" fill="#000"/>
<circle cx="629.6" cy="510.1" r="3.30" fill="#000"/>
<circle cx="633.3" cy="507.7" r="3.30" fill="#000"/>
<circle cx="637.0" cy="503.0" r="3.30" fill="#000"/>
<circle cx="640.7" cy="501.9" r="3.30" fill="#000"/>
<circle cx="644.4" cy="498.5" r="3.30" fill="#000"/>
<circle cx="648.1" cy="492.5" r="3.30" fill="#000"/>
<circle cx="651.8" cy="489.5" r="3.30" fill="#000"/>
<circle cx="655.5" cy="488.1" r="3.30" fill="#000"/>
<circle cx="659.2" cy="486.3" r="3.30" fill="#000"/>
<circle cx="662.9" cy="481.7" r="3.30" fill="#000"/>
<circle cx="666.6" cy="479.3" r="3.30" fill="#000"/>
<circle cx="670.3" cy="479.0" r="3.30" fill="#000"/>
<circle cx="674.0" cy="476.8" r="3.30" fill="#000"/>
<circle cx="677.7" cy="475.7" r="3.30" fill="#000"/>
<circle cx="681.4" cy="471.1" r="3.30" fill="#000"/>
<circle cx="685.1" cy="467.2" r="3.30" fill="#000"/>
<circle cx="688.8" cy="469.4" r="3.30" fill="#000"/>
<circle cx="692.5" cy="471.8" r="3.30" fill="#000"/>
<circle cx="696.2" cy="468.7" r="3.30" fill="#000"/>
<circle cx="699.9" cy="466.2" r="3.30" fill="#000"/>
<circle cx="703.6" cy="462.3" r="3.30" fill="#000"/>
<circle cx="707.3" cy="465.4" r="3.30" fill="#000"/>
<circle cx="710.6" cy="472.5" r="3.30" fill="#000"/>
<polyline points="577.8,541.9 580.9,538.9 584.1,534.1 587.2,531.2 590.4,529.7 593.5,526.5 596.6,523.4 599.8,519.7 602.9,517.3 606.1,514.3 609.2,511.3 612.3,507.4 615.5,505.0 618.6,501.9 621.8,499.6 624.9,497.1 628.0,494.1 631.2,490.3 634.3,487.1 637.5,483.3 640.6,479.4 643.7,475.9 646.9,473.3 650.0,469.6 653.2,466.2 656.3,463.8 659.4,459.6 662.6,456.2 665.7,452.1 668.9,448.3 672.0,445.4 675.1,441.6 678.3,438.9 681.4,435.9 684.6,431.1 687.7,425.9 690.8,423.2 694.0,418.8 697.1,414.5 700.3,410.6 703.4,406.2 706.5,403.2 709.7,399.3 712.8,397.6 716.0,394.6 719.1,390.0 722.2,388.2 728.6,383.0 733.5,378.0 738.0,378.0 743.0,378.0 748.0,373.0 753.0,378.0 757.0,378.0 760.0,383.0" fill="none" stroke="#8a6a10" stroke-width="2.0" stroke-linejoin="round"/>
<rect x="573.6" y="537.8" width="8.3" height="8.3" fill="#8a6a10"/>
<rect x="576.8" y="534.8" width="8.3" height="8.3" fill="#8a6a10"/>
<rect x="579.9" y="530.0" width="8.3" height="8.3" fill="#8a6a10"/>
<rect x="583.1" y="527.0" width="8.3" height="8.3" fill="#8a6a10"/>
<rect x="586.2" y="525.6" width="8.3" height="8.3" fill="#8a6a10"/>
<rect x="589.3" y="522.4" width="8.3" height="8.3" fill="#8a6a10"/>
<rect x="592.5" y="519.2" width="8.3" height="8.3" fill="#8a6a10"/>
<rect x="595.6" y="515.5" width="8.3" height="8.3" fill="#8a6a10"/>
<rect x="598.8" y="513.1" width="8.3" height="8.3" fill="#8a6a10"/>
<rect x="601.9" y="510.1" width="8.3" height="8.3" fill="#8a6a10"/>
<rect x="605.0" y="507.1" width="8.3" height="8.3" fill="#8a6a10"/>
<rect x="608.2" y="503.3" width="8.3" height="8.3" fill="#8a6a10"/>
<rect x="611.3" y="500.8" width="8.3" height="8.3" fill="#8a6a10"/>
<rect x="614.5" y="497.8" width="8.3" height="8.3" fill="#8a6a10"/>
<rect x="617.6" y="495.4" width="8.3" height="8.3" fill="#8a6a10"/>
<rect x="620.7" y="493.0" width="8.3" height="8.3" fill="#8a6a10"/>
<rect x="623.9" y="489.9" width="8.3" height="8.3" fill="#8a6a10"/>
<rect x="627.0" y="486.1" width="8.3" height="8.3" fill="#8a6a10"/>
<rect x="630.2" y="482.9" width="8.3" height="8.3" fill="#8a6a10"/>
<rect x="633.3" y="479.1" width="8.3" height="8.3" fill="#8a6a10"/>
<rect x="636.4" y="475.2" width="8.3" height="8.3" fill="#8a6a10"/>
<rect x="639.6" y="471.7" width="8.3" height="8.3" fill="#8a6a10"/>
<rect x="642.7" y="469.2" width="8.3" height="8.3" fill="#8a6a10"/>
<rect x="645.9" y="465.4" width="8.3" height="8.3" fill="#8a6a10"/>
<rect x="649.0" y="462.1" width="8.3" height="8.3" fill="#8a6a10"/>
<rect x="652.1" y="459.7" width="8.3" height="8.3" fill="#8a6a10"/>
<rect x="655.3" y="455.5" width="8.3" height="8.3" fill="#8a6a10"/>
<rect x="658.4" y="452.1" width="8.3" height="8.3" fill="#8a6a10"/>
<rect x="661.6" y="448.0" width="8.3" height="8.3" fill="#8a6a10"/>
<rect x="664.7" y="444.1" width="8.3" height="8.3" fill="#8a6a10"/>
<rect x="667.8" y="441.3" width="8.3" height="8.3" fill="#8a6a10"/>
<rect x="671.0" y="437.4" width="8.3" height="8.3" fill="#8a6a10"/>
<rect x="674.1" y="434.7" width="8.3" height="8.3" fill="#8a6a10"/>
<rect x="677.3" y="431.8" width="8.3" height="8.3" fill="#8a6a10"/>
<rect x="680.4" y="427.0" width="8.3" height="8.3" fill="#8a6a10"/>
<rect x="683.5" y="421.8" width="8.3" height="8.3" fill="#8a6a10"/>
<rect x="686.7" y="419.0" width="8.3" height="8.3" fill="#8a6a10"/>
<rect x="689.8" y="414.6" width="8.3" height="8.3" fill="#8a6a10"/>
<rect x="693.0" y="410.3" width="8.3" height="8.3" fill="#8a6a10"/>
<rect x="696.1" y="406.5" width="8.3" height="8.3" fill="#8a6a10"/>
<rect x="699.2" y="402.0" width="8.3" height="8.3" fill="#8a6a10"/>
<rect x="702.4" y="399.0" width="8.3" height="8.3" fill="#8a6a10"/>
<rect x="705.5" y="395.2" width="8.3" height="8.3" fill="#8a6a10"/>
<rect x="708.7" y="393.4" width="8.3" height="8.3" fill="#8a6a10"/>
<rect x="711.8" y="390.4" width="8.3" height="8.3" fill="#8a6a10"/>
<rect x="714.9" y="385.8" width="8.3" height="8.3" fill="#8a6a10"/>
<rect x="718.1" y="384.0" width="8.3" height="8.3" fill="#8a6a10"/>
<rect x="724.5" y="378.9" width="8.3" height="8.3" fill="#8a6a10"/>
<rect x="729.4" y="373.9" width="8.3" height="8.3" fill="#8a6a10"/>
<rect x="733.9" y="373.9" width="8.3" height="8.3" fill="#8a6a10"/>
<rect x="738.9" y="373.9" width="8.3" height="8.3" fill="#8a6a10"/>
<rect x="743.9" y="368.9" width="8.3" height="8.3" fill="#8a6a10"/>
<rect x="748.9" y="373.9" width="8.3" height="8.3" fill="#8a6a10"/>
<rect x="752.9" y="373.9" width="8.3" height="8.3" fill="#8a6a10"/>
<rect x="755.9" y="378.9" width="8.3" height="8.3" fill="#8a6a10"/>
<polyline points="577.8,540.6 580.9,538.0 584.1,534.6 587.2,531.8 590.4,528.8 593.5,524.7 596.6,521.6 599.8,519.8 602.9,515.7 606.1,512.6 609.2,510.7 612.3,506.7 615.5,504.2 618.6,500.5 621.8,497.7 624.9,493.8 628.0,491.4 631.2,488.7 634.3,484.9 637.5,481.7 640.6,478.1 643.7,473.6 646.9,471.2 650.0,467.4 653.2,463.4 656.3,459.5 659.4,457.3 662.6,453.2 665.7,450.0 668.9,446.8 672.0,443.0 675.1,439.8 678.3,435.3 681.4,431.5 684.6,426.5 687.7,422.8 690.8,418.3 694.0,412.6 697.1,408.2 700.3,403.9 703.4,402.5 706.5,399.5 709.7,397.7 716.0,393.5 721.0,398.3 725.8,392.8 732.0,392.8 732.0,383.8 738.3,388.0 745.3,388.0 748.0,392.8" fill="none" stroke="#0c2569" stroke-width="2.2" stroke-linejoin="round"/>
<circle cx="577.8" cy="540.6" r="4.00" fill="#0c2569"/>
<circle cx="580.9" cy="538.0" r="4.00" fill="#0c2569"/>
<circle cx="584.1" cy="534.6" r="4.00" fill="#0c2569"/>
<circle cx="587.2" cy="531.8" r="4.00" fill="#0c2569"/>
<circle cx="590.4" cy="528.8" r="4.00" fill="#0c2569"/>
<circle cx="593.5" cy="524.7" r="4.00" fill="#0c2569"/>
<circle cx="596.6" cy="521.6" r="4.00" fill="#0c2569"/>
<circle cx="599.8" cy="519.8" r="4.00" fill="#0c2569"/>
<circle cx="602.9" cy="515.7" r="4.00" fill="#0c2569"/>
<circle cx="606.1" cy="512.6" r="4.00" fill="#0c2569"/>
<circle cx="609.2" cy="510.7" r="4.00" fill="#0c2569"/>
<circle cx="612.3" cy="506.7" r="4.00" fill="#0c2569"/>
<circle cx="615.5" cy="504.2" r="4.00" fill="#0c2569"/>
<circle cx="618.6" cy="500.5" r="4.00" fill="#0c2569"/>
<circle cx="621.8" cy="497.7" r="4.00" fill="#0c2569"/>
<circle cx="624.9" cy="493.8" r="4.00" fill="#0c2569"/>
<circle cx="628.0" cy="491.4" r="4.00" fill="#0c2569"/>
<circle cx="631.2" cy="488.7" r="4.00" fill="#0c2569"/>
<circle cx="634.3" cy="484.9" r="4.00" fill="#0c2569"/>
<circle cx="637.5" cy="481.7" r="4.00" fill="#0c2569"/>
<circle cx="640.6" cy="478.1" r="4.00" fill="#0c2569"/>
<circle cx="643.7" cy="473.6" r="4.00" fill="#0c2569"/>
<circle cx="646.9" cy="471.2" r="4.00" fill="#0c2569"/>
<circle cx="650.0" cy="467.4" r="4.00" fill="#0c2569"/>
<circle cx="653.2" cy="463.4" r="4.00" fill="#0c2569"/>
<circle cx="656.3" cy="459.5" r="4.00" fill="#0c2569"/>
<circle cx="659.4" cy="457.3" r="4.00" fill="#0c2569"/>
<circle cx="662.6" cy="453.2" r="4.00" fill="#0c2569"/>
<circle cx="665.7" cy="450.0" r="4.00" fill="#0c2569"/>
<circle cx="668.9" cy="446.8" r="4.00" fill="#0c2569"/>
<circle cx="672.0" cy="443.0" r="4.00" fill="#0c2569"/>
<circle cx="675.1" cy="439.8" r="4.00" fill="#0c2569"/>
<circle cx="678.3" cy="435.3" r="4.00" fill="#0c2569"/>
<circle cx="681.4" cy="431.5" r="4.00" fill="#0c2569"/>
<circle cx="684.6" cy="426.5" r="4.00" fill="#0c2569"/>
<circle cx="687.7" cy="422.8" r="4.00" fill="#0c2569"/>
<circle cx="690.8" cy="418.3" r="4.00" fill="#0c2569"/>
<circle cx="694.0" cy="412.6" r="4.00" fill="#0c2569"/>
<circle cx="697.1" cy="408.2" r="4.00" fill="#0c2569"/>
<circle cx="700.3" cy="403.9" r="4.00" fill="#0c2569"/>
<circle cx="703.4" cy="402.5" r="4.00" fill="#0c2569"/>
<circle cx="706.5" cy="399.5" r="4.00" fill="#0c2569"/>
<circle cx="709.7" cy="397.7" r="4.00" fill="#0c2569"/>
<circle cx="716.0" cy="393.5" r="4.00" fill="#0c2569"/>
<circle cx="721.0" cy="398.3" r="4.00" fill="#0c2569"/>
<circle cx="725.8" cy="392.8" r="4.00" fill="#0c2569"/>
<circle cx="732.0" cy="392.8" r="4.00" fill="#0c2569"/>
<circle cx="732.0" cy="383.8" r="4.00" fill="#0c2569"/>
<circle cx="738.3" cy="388.0" r="4.00" fill="#0c2569"/>
<circle cx="745.3" cy="388.0" r="4.00" fill="#0c2569"/>
<circle cx="748.0" cy="392.8" r="4.00" fill="#0c2569"/>
<polyline points="577.8,540.3 580.9,536.7 584.1,534.1 587.2,530.2 590.4,526.7 593.5,524.2 596.6,522.3 599.8,518.6 602.9,515.2 606.1,510.5 609.2,508.0 612.3,504.1 615.5,500.5 618.6,497.0 621.8,494.0 624.9,492.5 628.0,489.0 631.2,485.6 634.3,482.0 637.5,476.9 640.6,473.6 643.7,470.9 646.9,467.6 650.0,464.4 653.2,460.9 656.3,455.3 659.4,453.1 662.6,449.7 665.7,445.7 668.9,441.3 672.0,438.5 675.1,433.9 678.3,431.6 681.4,426.8 684.6,421.3 687.7,416.1 690.8,413.0 694.0,407.5 697.1,403.7 700.3,399.0 703.4,393.4 706.5,388.5 709.7,384.3 712.8,379.2 716.0,373.8 719.1,369.5 722.2,366.1 725.4,359.5 733.0,355.3 737.0,355.6 741.0,356.2" fill="none" stroke="#4d692c" stroke-width="2.2" stroke-linejoin="round"/>
<polygon points="577.8,535.2 582.9,540.3 577.8,545.4 572.7,540.3" fill="#4d692c"/>
<polygon points="580.9,531.6 586.0,536.7 580.9,541.8 575.8,536.7" fill="#4d692c"/>
<polygon points="584.1,529.0 589.2,534.1 584.1,539.2 579.0,534.1" fill="#4d692c"/>
<polygon points="587.2,525.1 592.3,530.2 587.2,535.3 582.1,530.2" fill="#4d692c"/>
<polygon points="590.4,521.6 595.5,526.7 590.4,531.8 585.3,526.7" fill="#4d692c"/>
<polygon points="593.5,519.1 598.6,524.2 593.5,529.3 588.4,524.2" fill="#4d692c"/>
<polygon points="596.6,517.2 601.7,522.3 596.6,527.4 591.5,522.3" fill="#4d692c"/>
<polygon points="599.8,513.5 604.9,518.6 599.8,523.7 594.7,518.6" fill="#4d692c"/>
<polygon points="602.9,510.1 608.0,515.2 602.9,520.3 597.8,515.2" fill="#4d692c"/>
<polygon points="606.1,505.4 611.2,510.5 606.1,515.6 601.0,510.5" fill="#4d692c"/>
<polygon points="609.2,502.9 614.3,508.0 609.2,513.1 604.1,508.0" fill="#4d692c"/>
<polygon points="612.3,499.0 617.4,504.1 612.3,509.2 607.2,504.1" fill="#4d692c"/>
<polygon points="615.5,495.4 620.6,500.5 615.5,505.6 610.4,500.5" fill="#4d692c"/>
<polygon points="618.6,491.9 623.7,497.0 618.6,502.1 613.5,497.0" fill="#4d692c"/>
<polygon points="621.8,488.9 626.9,494.0 621.8,499.1 616.7,494.0" fill="#4d692c"/>
<polygon points="624.9,487.4 630.0,492.5 624.9,497.6 619.8,492.5" fill="#4d692c"/>
<polygon points="628.0,483.9 633.1,489.0 628.0,494.1 622.9,489.0" fill="#4d692c"/>
<polygon points="631.2,480.5 636.3,485.6 631.2,490.7 626.1,485.6" fill="#4d692c"/>
<polygon points="634.3,476.9 639.4,482.0 634.3,487.1 629.2,482.0" fill="#4d692c"/>
<polygon points="637.5,471.8 642.6,476.9 637.5,482.0 632.4,476.9" fill="#4d692c"/>
<polygon points="640.6,468.5 645.7,473.6 640.6,478.7 635.5,473.6" fill="#4d692c"/>
<polygon points="643.7,465.8 648.8,470.9 643.7,476.0 638.6,470.9" fill="#4d692c"/>
<polygon points="646.9,462.5 652.0,467.6 646.9,472.7 641.8,467.6" fill="#4d692c"/>
<polygon points="650.0,459.3 655.1,464.4 650.0,469.5 644.9,464.4" fill="#4d692c"/>
<polygon points="653.2,455.8 658.3,460.9 653.2,466.0 648.1,460.9" fill="#4d692c"/>
<polygon points="656.3,450.2 661.4,455.3 656.3,460.4 651.2,455.3" fill="#4d692c"/>
<polygon points="659.4,448.0 664.5,453.1 659.4,458.2 654.3,453.1" fill="#4d692c"/>
<polygon points="662.6,444.6 667.7,449.7 662.6,454.8 657.5,449.7" fill="#4d692c"/>
<polygon points="665.7,440.6 670.8,445.7 665.7,450.8 660.6,445.7" fill="#4d692c"/>
<polygon points="668.9,436.2 674.0,441.3 668.9,446.4 663.8,441.3" fill="#4d692c"/>
<polygon points="672.0,433.4 677.1,438.5 672.0,443.6 666.9,438.5" fill="#4d692c"/>
<polygon points="675.1,428.8 680.2,433.9 675.1,439.0 670.0,433.9" fill="#4d692c"/>
<polygon points="678.3,426.5 683.4,431.6 678.3,436.7 673.2,431.6" fill="#4d692c"/>
<polygon points="681.4,421.7 686.5,426.8 681.4,431.9 676.3,426.8" fill="#4d692c"/>
<polygon points="684.6,416.2 689.7,421.3 684.6,426.4 679.5,421.3" fill="#4d692c"/>
<polygon points="687.7,411.0 692.8,416.1 687.7,421.2 682.6,416.1" fill="#4d692c"/>
<polygon points="690.8,407.9 695.9,413.0 690.8,418.1 685.7,413.0" fill="#4d692c"/>
<polygon points="694.0,402.4 699.1,407.5 694.0,412.6 688.9,407.5" fill="#4d692c"/>
<polygon points="697.1,398.6 702.2,403.7 697.1,408.8 692.0,403.7" fill="#4d692c"/>
<polygon points="700.3,393.9 705.4,399.0 700.3,404.1 695.2,399.0" fill="#4d692c"/>
<polygon points="703.4,388.3 708.5,393.4 703.4,398.5 698.3,393.4" fill="#4d692c"/>
<polygon points="706.5,383.4 711.6,388.5 706.5,393.6 701.4,388.5" fill="#4d692c"/>
<polygon points="709.7,379.2 714.8,384.3 709.7,389.4 704.6,384.3" fill="#4d692c"/>
<polygon points="712.8,374.1 717.9,379.2 712.8,384.3 707.7,379.2" fill="#4d692c"/>
<polygon points="716.0,368.7 721.1,373.8 716.0,378.9 710.9,373.8" fill="#4d692c"/>
<polygon points="719.1,364.4 724.2,369.5 719.1,374.6 714.0,369.5" fill="#4d692c"/>
<polygon points="722.2,361.0 727.3,366.1 722.2,371.2 717.1,366.1" fill="#4d692c"/>
<polygon points="725.4,354.4 730.5,359.5 725.4,364.6 720.3,359.5" fill="#4d692c"/>
<polygon points="733.0,350.2 738.1,355.3 733.0,360.4 727.9,355.3" fill="#4d692c"/>
<polygon points="737.0,350.5 742.1,355.6 737.0,360.7 731.9,355.6" fill="#4d692c"/>
<polygon points="741.0,351.1 746.1,356.2 741.0,361.3 735.9,356.2" fill="#4d692c"/>
</svg>
<div class="t" id="t1" style="left:9.00px;top:12.29px;font-size:39px;font-weight:700;color:#000;word-spacing:3.2px;transform:scaleX(1.0372);">Olive polyphenol extract improves the physical</div>
<div class="t" id="t2" style="left:9.00px;top:55.79px;font-size:39px;font-weight:700;color:#000;word-spacing:4.2px;transform:scaleX(1.0321);">properties of food protein gels</div>
<div class="t" id="vac" style="left:169.20px;top:252.36px;font-size:16px;font-weight:700;color:#7f7f7f;transform:scaleX(0.9984);">vacuole</div>
<div class="t" id="cyt" style="left:183.60px;top:300.86px;font-size:16px;font-weight:700;color:#7f7f7f;transform:scaleX(0.9712);">cytosol</div>
<div class="t" id="chl" style="left:170.40px;top:406.06px;font-size:16px;font-weight:700;color:#7f7f7f;transform:scaleX(1.0008);">chloroplast</div>
<div class="t" id="oleu" style="left:288.40px;top:179.84px;font-size:22.4px;font-weight:700;color:#111;transform:scaleX(0.9307);">Oleuropein</div>
<div class="t" id="olea" style="left:285.00px;top:425.50px;font-size:21.5px;font-weight:700;color:#c00000;transform:scaleX(0.9884);">Oleacein</div>
<div class="t" id="beta" style="left:339.70px;top:386.48px;font-size:15.5px;font-weight:400;color:#111;-webkit-text-stroke:0.45px #111;transform:scaleX(1.1379);"><i>&beta;</i> -glucosidase</div>
<div class="t" id="ext" style="left:97.60px;top:479.66px;font-size:16px;font-weight:700;color:#111;transform:scaleX(1.0214);">Extract with cold water</div>
<div class="t" id="ope" style="left:18.20px;top:529.06px;font-size:16px;font-weight:700;color:#000;-webkit-text-stroke:0.4px #000;transform:scaleX(1.1118);">Olive polyphenol extract</div>
<div class="t" id="b1" style="left:538.60px;top:180.29px;font-size:19.5px;font-weight:400;color:#111;-webkit-text-stroke:0.65px #111;word-spacing:3.2px;transform:scaleX(1.1694);">Breaking strength of heat-induced</div>
<div class="t" id="b2" style="left:538.60px;top:206.29px;font-size:19.5px;font-weight:400;color:#111;-webkit-text-stroke:0.65px #111;word-spacing:1.2px;transform:scaleX(1.1872);">egg white gel with polyphenol extract</div>
<div class="t" id="lo" style="left:693.00px;top:257.36px;font-size:18px;font-weight:700;color:#c00000;word-spacing:1.5px;transform:scaleX(1.0128);">+olive polyphenol</div>
<div class="t" id="lt" style="left:741.00px;top:326.36px;font-size:18px;font-weight:700;color:#111;word-spacing:1.5px;transform:scaleX(1.0285);">+tea polyphenol</div>
<div class="t" id="lor" style="left:775.00px;top:369.56px;font-size:18px;font-weight:700;color:#111;word-spacing:1.5px;transform:scaleX(1.0172);">+orange polyphenol</div>
<div class="t" id="lg" style="left:720.00px;top:411.96px;font-size:18px;font-weight:700;color:#111;word-spacing:1.5px;transform:scaleX(1.0122);">+grape polyphenol</div>
<div class="t" id="lc" style="left:693.50px;top:479.56px;font-size:18px;font-weight:700;color:#111;word-spacing:1.5px;transform:scaleX(1.0000);">Control egg white gel</div>
<div class="t" id="strain" style="left:708.20px;top:582.36px;font-size:15.4px;font-weight:700;color:#111;transform:scaleX(1.0491);">Strain <span style="font-weight:400">[%]</span></div>
<div class="t" style="left:524px;width:40px;text-align:right;top:542.64px;font-size:16.5px;color:#111;">0</div>
<div class="t" style="left:524px;width:40px;text-align:right;top:504.65px;font-size:16.5px;color:#111;">10</div>
<div class="t" style="left:524px;width:40px;text-align:right;top:466.66px;font-size:16.5px;color:#111;">20</div>
<div class="t" style="left:524px;width:40px;text-align:right;top:428.68px;font-size:16.5px;color:#111;">30</div>
<div class="t" style="left:524px;width:40px;text-align:right;top:390.69px;font-size:16.5px;color:#111;">40</div>
<div class="t" style="left:524px;width:40px;text-align:right;top:352.70px;font-size:16.5px;color:#111;">50</div>
<div class="t" style="left:524px;width:40px;text-align:right;top:314.71px;font-size:16.5px;color:#111;">60</div>
<div class="t" style="left:524px;width:40px;text-align:right;top:276.73px;font-size:16.5px;color:#111;">70</div>
<div class="t" style="left:524px;width:40px;text-align:right;top:238.74px;font-size:16.5px;color:#111;">80</div>
<div class="t" style="left:557.50px;width:40px;text-align:center;top:562.63px;font-size:16.5px;color:#111;">0</div>
<div class="t" style="left:588.80px;width:40px;text-align:center;top:562.63px;font-size:16.5px;color:#111;">10</div>
<div class="t" style="left:620.10px;width:40px;text-align:center;top:562.63px;font-size:16.5px;color:#111;">20</div>
<div class="t" style="left:651.40px;width:40px;text-align:center;top:562.63px;font-size:16.5px;color:#111;">30</div>
<div class="t" style="left:682.70px;width:40px;text-align:center;top:562.63px;font-size:16.5px;color:#111;">40</div>
<div class="t" style="left:714.00px;width:40px;text-align:center;top:562.63px;font-size:16.5px;color:#111;">50</div>
<div class="t" style="left:745.30px;width:40px;text-align:center;top:562.63px;font-size:16.5px;color:#111;">60</div>
<div class="t" style="left:776.60px;width:40px;text-align:center;top:562.63px;font-size:16.5px;color:#111;">70</div>
<div class="t" style="left:807.90px;width:40px;text-align:center;top:562.63px;font-size:16.5px;color:#111;">80</div>
<div class="t" style="left:839.20px;width:40px;text-align:center;top:562.63px;font-size:16.5px;color:#111;">90</div>
<div class="t" style="left:870.50px;width:40px;text-align:center;top:562.63px;font-size:16.5px;color:#111;">100</div>
<div class="t" id="stress" style="left:520.2px;top:455.8px;font-size:16px;font-weight:700;color:#111;transform:rotate(-90deg);transform-origin:0 0;">Stress <span style="font-weight:400">[10<sup style="font-size:10px;line-height:0;vertical-align:5.5px">3</sup> Pa]</span></div>

</body></html>
